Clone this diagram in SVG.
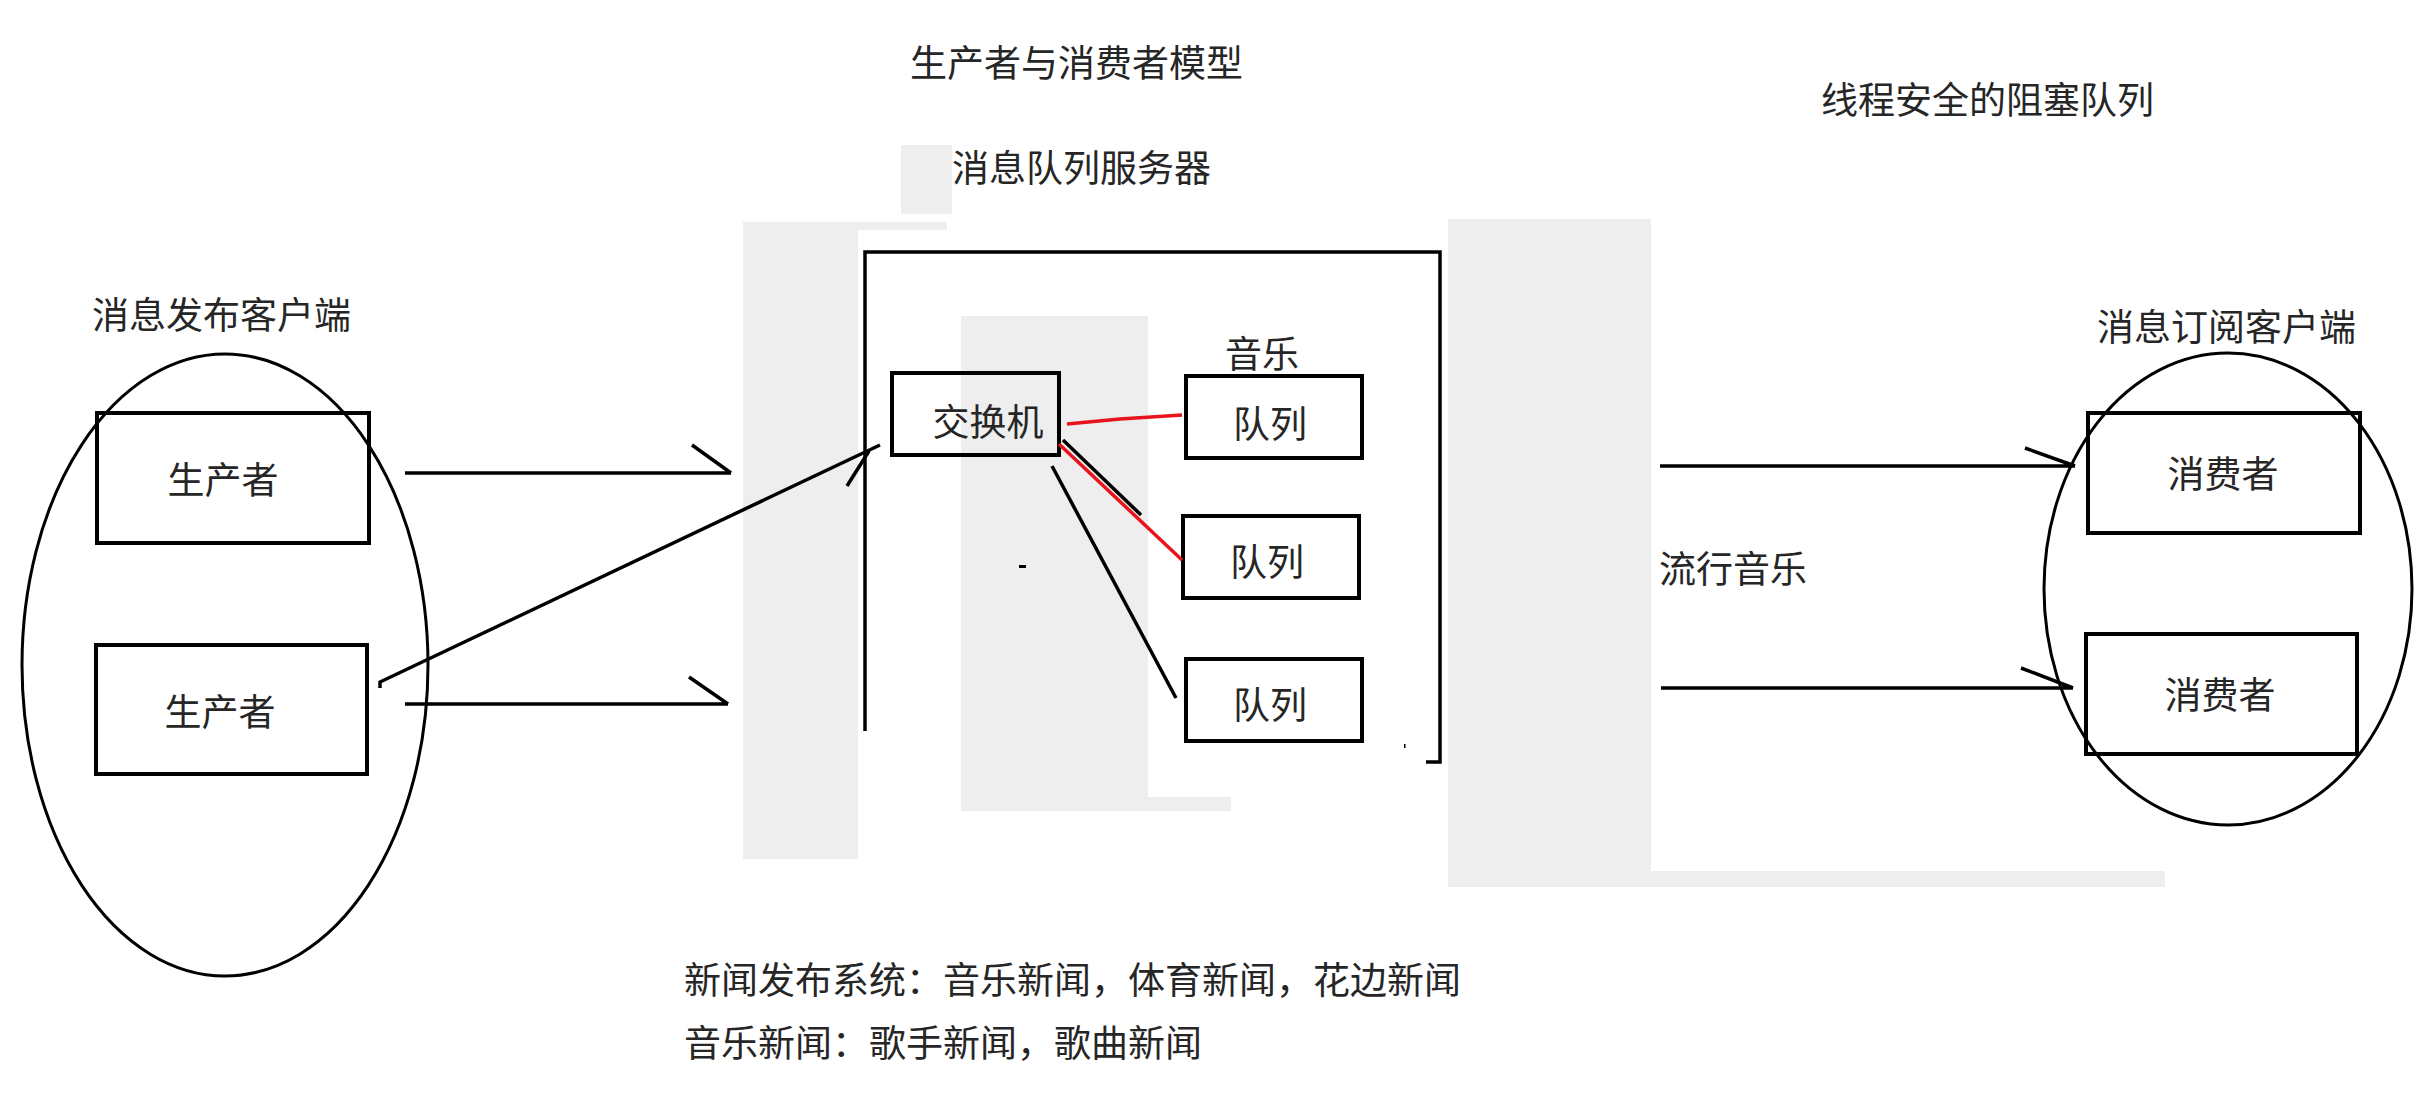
<svg xmlns="http://www.w3.org/2000/svg" width="2436" height="1112" viewBox="0 0 2436 1112">
<style>
.t{font-family:"Noto Sans CJK SC","Noto Sans",sans-serif;font-size:37px;fill:#262626}
.m{text-anchor:middle}
.box{fill:none;stroke:#000;stroke-width:4}
.ell{fill:none;stroke:#000;stroke-width:3}
.ln{fill:none;stroke:#000;stroke-width:3.5;stroke-linecap:butt}
.red{fill:none;stroke:#e8141b;stroke-width:3.5}
.bg{fill:#eeeeee}
</style>
<rect width="2436" height="1112" fill="#ffffff"/>
<g id="backgrounds">
<rect class="bg" x="743" y="222" width="115" height="637"/>
<rect class="bg" x="743" y="222" width="204" height="8"/>
<rect class="bg" x="901" y="145" width="51" height="69"/>
<rect class="bg" x="961" y="316" width="187" height="495"/>
<rect class="bg" x="961" y="797" width="270" height="14"/>
<rect class="bg" x="1448" y="219" width="203" height="668"/>
<rect class="bg" x="1448" y="871" width="717" height="16"/>
</g>
<g id="titles">
<text class="t" x="910" y="77">生产者与消费者模型</text>
<text class="t" x="952" y="182">消息队列服务器</text>
<text class="t" x="1821" y="114">线程安全的阻塞队列</text>
<text class="t" x="684" y="994">新闻发布系统：音乐新闻，体育新闻，花边新闻</text>
<text class="t" x="684" y="1057">音乐新闻：歌手新闻，歌曲新闻</text>
</g>
<g id="publisher-client">
<text class="t" x="92" y="329">消息发布客户端</text>
<ellipse class="ell" cx="225" cy="665" rx="203" ry="311"/>
</g>
<g id="producer1">
<rect class="box" x="97" y="413" width="272" height="130"/>
<text class="t m" x="223" y="494">生产者</text>
</g>
<g id="producer2">
<rect class="box" x="96" y="645" width="271" height="129"/>
<text class="t m" x="220" y="726">生产者</text>
</g>
<g id="mq-server">
<path class="ln" d="M865,731 L865,252 L1440,252 L1440,762 L1426,762" stroke-width="3"/>
<rect x="1019" y="565" width="7" height="3" fill="#000"/>
<rect x="1404" y="744" width="1.5" height="4" fill="#000"/>
</g>
<g id="exchange">
<rect class="box" x="892" y="373" width="167" height="82"/>
<text class="t m" x="988" y="436">交换机</text>
</g>
<g id="queue1">
<text class="t m" x="1262" y="368">音乐</text>
<rect class="box" x="1186" y="376" width="176" height="82"/>
<text class="t m" x="1270" y="438">队列</text>
</g>
<g id="queue2">
<rect class="box" x="1183" y="516" width="176" height="82"/>
<text class="t m" x="1267" y="576">队列</text>
</g>
<g id="queue3">
<rect class="box" x="1186" y="659" width="176" height="82"/>
<text class="t m" x="1270" y="719">队列</text>
</g>
<g id="subscriber-client">
<text class="t" x="2097" y="341">消息订阅客户端</text>
<ellipse class="ell" cx="2228" cy="589" rx="184" ry="236"/>
</g>
<g id="consumer1">
<rect class="box" x="2088" y="413" width="272" height="120"/>
<text class="t m" x="2223" y="488">消费者</text>
</g>
<g id="consumer2">
<rect class="box" x="2086" y="634" width="271" height="120"/>
<text class="t m" x="2220" y="709">消费者</text>
</g>
<g id="label-pop">
<text class="t" x="1659" y="583">流行音乐</text>
</g>
<g id="connectors">
<path class="ln" d="M405,473 L731,473 M692,445 L731,473"/>
<path class="ln" d="M405,704 L728,704 M689,677 L728,704"/>
<path class="ln" d="M380,688 L380,682 L880,445 M847,486 L869,451"/>
<path class="red" d="M1067,424 L1120,419 L1182,415"/>
<path class="ln" d="M1063,440 L1141,515" stroke-width="4.5"/>
<path class="red" d="M1059,444 L1182,560"/>
<path class="ln" d="M1052,466 L1176,698"/>
<path class="ln" d="M1660,466 L2075,466 M2025,448 L2075,466"/>
<path class="ln" d="M1661,688 L2073,688 M2021,668 L2073,688"/>
</g>
</svg>
